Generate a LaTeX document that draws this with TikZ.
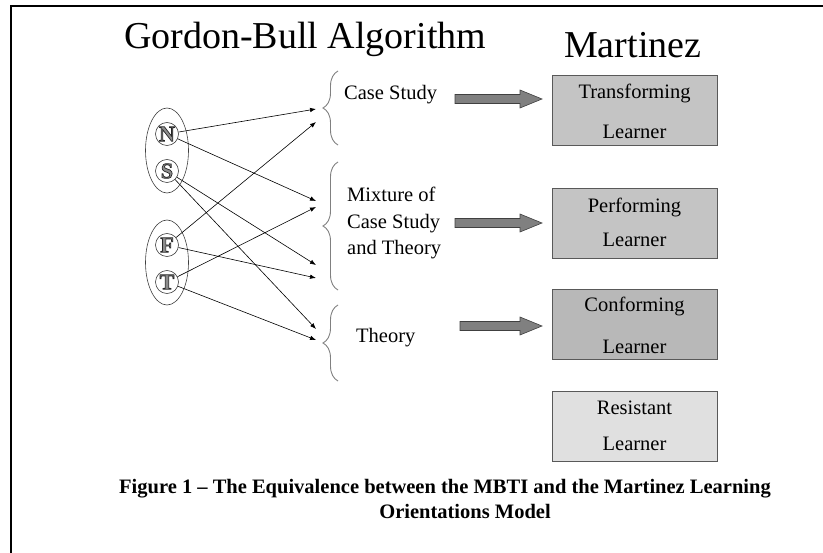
\documentclass[tikz,border=0pt]{standalone}
\usepackage{fontspec}
\setmainfont{Liberation Serif}
\usetikzlibrary{arrows.meta,decorations.pathreplacing}
\newcommand{\outl}[1]{\special{pdf:literal direct 2 Tr 0.7 w 0.15 G}#1\special{pdf:literal direct 0 Tr}}
\definecolor{boxA}{HTML}{C4C4C4}
\definecolor{boxC}{HTML}{B8B8B8}
\definecolor{boxR}{HTML}{E0E0E0}
\definecolor{bigarrow}{HTML}{808080}
\definecolor{bracecol}{HTML}{808080}
\tikzset{
  txt/.style={inner sep=0pt, anchor=base, font=\fontsize{20.5bp}{24bp}\selectfont},
  lbl/.style={inner sep=0pt, anchor=base west, font=\fontsize{20.5bp}{24bp}\selectfont},
  bigtitle/.style={inner sep=0pt, anchor=base west, font=\fontsize{38bp}{44bp}\selectfont},
  capt/.style={inner sep=0pt, anchor=base, font=\fontsize{20.5bp}{24bp}\selectfont\bfseries},
  letter/.style={circle, draw=black!75, line width=0.6bp, minimum size=23bp, inner sep=0pt,
                 font=\fontsize{22bp}{22bp}\selectfont\bfseries, text=black!45},
  link/.style={draw=black, line width=0.6bp, -{Latex[length=6bp,width=4.5bp]}},
  learner/.style={draw=black!65, line width=0.8bp, minimum width=165bp, minimum height=70bp, inner sep=0pt},
  blockarrow/.style={fill=bigarrow, draw=black!75, line width=0.6bp},
  bracestyle/.style={draw=bracecol, line width=0.9bp, decorate, decoration={brace, amplitude=15bp}},
}
\begin{document}
\begin{tikzpicture}[x=1bp,y=-1bp]
\useasboundingbox (0,0) rectangle (823,553);
% frame
\draw[line width=2bp] (11,553) -- (11,6) -- (823,6);
% titles
\node[bigtitle] (title) at (124,49) {Gordon-Bull Algorithm};
\node[bigtitle] (mart) at (564,58) {Martinez};
% groups
\draw[draw=black!75, line width=0.6bp] (167,150.5) ellipse (21.5bp and 42.5bp);
\draw[draw=black!75, line width=0.6bp] (167,262.5) ellipse (21.5bp and 42.5bp);
\node[letter] (N) at (167,134) {\outl{N}};
\node[letter] (S) at (167,171) {\outl{S}};
\node[letter] (F) at (167,245) {\outl{F}};
\node[letter] (T) at (167,282) {\outl{T}};
% arrow endpoints
\coordinate (a1) at (316,109);
\coordinate (a2) at (316,122);
\coordinate (a3) at (316,201);
\coordinate (a4) at (316,207);
\coordinate (a5) at (316,265);
\coordinate (a6) at (316,278);
\coordinate (a7) at (316,329);
\coordinate (a8) at (316,340);
\draw[link] (N) -- (a1);
\draw[link] (N) -- (a3);
\draw[link] (S) -- (a5);
\draw[link] (S) -- (a7);
\draw[link] (F) -- (a2);
\draw[link] (F) -- (a6);
\draw[link] (T) -- (a4);
\draw[link] (T) -- (a8);
% braces
\draw[bracestyle] (338,145) -- (338,71);
\draw[bracestyle] (338,290) -- (338,162);
\draw[bracestyle] (338,381) -- (338,305);
% labels
\node[lbl] (cs) at (344,100) {Case Study};
\node[lbl] (mx1) at (347,202) {Mixture of};
\node[lbl] (mx2) at (347,229) {Case Study};
\node[lbl] (mx3) at (347,255) {and Theory};
\node[lbl] (th) at (356,342) {Theory};
% learner boxes
\node[learner, fill=boxA] (tr) at (634.5,110.5) {};
\node[learner, fill=boxA] (pf) at (634.5,223.5) {};
\node[learner, fill=boxC] (cf) at (634.5,324) {};
\node[learner, fill=boxR] (rs) at (634.5,426) {};
\node[txt] (tr1) at (634.5,99) {Transforming};
\node[txt] (tr2) at (634.5,139) {Learner};
\node[txt] (pf1) at (634.5,213) {Performing};
\node[txt] (pf2) at (634.5,247) {Learner};
\node[txt] (cf1) at (634.5,312) {Conforming};
\node[txt] (cf2) at (634.5,353) {Learner};
\node[txt] (rs1) at (634.5,414) {Resistant};
\node[txt] (rs2) at (634.5,450) {Learner};
% block arrows
\foreach \x/\y in {455/99, 455/223, 460/326}{
  \draw[blockarrow] (\x,\y-4.5) -- (520,\y-4.5) -- (520,\y-9) -- (542,\y) -- (520,\y+9)
     -- (520,\y+4.5) -- (\x,\y+4.5) -- cycle;
}
% caption
\node[capt] (cap1) at (445,493) {Figure 1 – The Equivalence between the MBTI and the Martinez Learning};
\node[capt] (cap2) at (465,518) {Orientations Model};
\end{tikzpicture}
\end{document}
